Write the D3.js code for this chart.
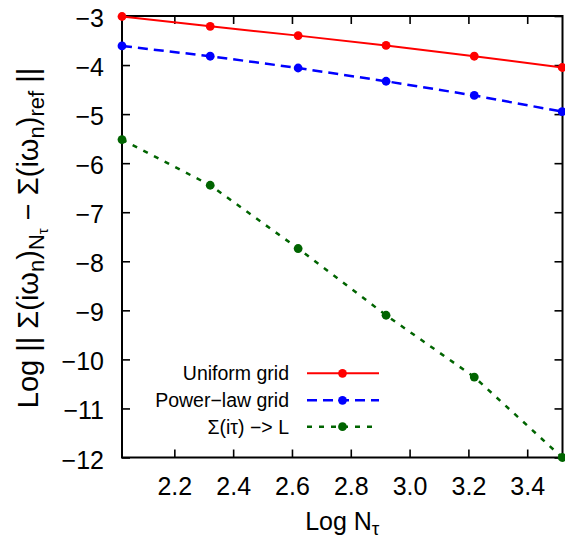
<!DOCTYPE html>
<html>
<head>
<meta charset="utf-8">
<script src="https://cdn.jsdelivr.net/npm/d3@7"></script>
<style>
  html, body { margin: 0; padding: 0; background: #fff; }
  svg { display: block; font-family: "Liberation Sans", Arial, Helvetica, sans-serif; }
</style>
</head>
<body>
<svg id="chart" width="565" height="538"></svg>
<script>
// ---- data ----
const logN = [2.022, 2.322, 2.621, 2.920, 3.220, 3.519];
const uniformGrid = [-3.01, -3.21, -3.40, -3.60, -3.82, -4.05];
const powerLawGrid = [-3.61, -3.82, -4.06, -4.33, -4.62, -4.95];
const sigmaTauL = [-5.52, -6.45, -7.74, -9.10, -10.36, -12.00];
const xTicks = [2.2, 2.4, 2.6, 2.8, 3.0, 3.2, 3.4];
const yTicks = [-3, -4, -5, -6, -7, -8, -9, -10, -11, -12];
const seriesNames = ["Uniform grid", "Power\u2212law grid", "\u03A3(i\u03C4) \u2212> L"];

// ---- layout ----
const L = 122, R = 562.5, T = 16, B = 457.5;
const svg = d3.select("#chart");

const x = d3.scaleLinear().domain([2.022, 3.520]).range([L, R]);
const y = d3.scaleLinear().domain([-12, -3]).range([B, T]);

const series = [
  { name: seriesNames[0], values: uniformGrid, color: "#ff0000", dash: null, width: 2 },
  { name: seriesNames[1], values: powerLawGrid, color: "#0000ff", dash: "10,6", width: 2.5 },
  { name: seriesNames[2], values: sigmaTauL, color: "#006400", dash: "5,7", width: 2.5 }
];

// ---- axes (inward ticks, mirrored) ----
const tickLen = 8;
const fmtX = d3.format(".1f");
const axB = d3.axisBottom(x).tickValues(xTicks).tickSize(-tickLen).tickFormat(fmtX);
const axT = d3.axisTop(x).tickValues(xTicks).tickSize(-tickLen).tickFormat("");
const axLft = d3.axisLeft(y).tickValues(yTicks).tickSize(-tickLen).tickPadding(18).tickFormat(d => d3.format("d")(d).replace("-", "\u2212"));
const axRgt = d3.axisRight(y).tickValues(yTicks).tickSize(-tickLen).tickFormat("");

function styleAxis(g) {
  g.select(".domain").remove();
  g.selectAll(".tick line").attr("stroke", "#000").attr("stroke-width", 1.6);
  g.selectAll(".tick text").attr("fill", "#000").style("font-size", "25px");
}

svg.append("g").attr("transform", `translate(0,${B})`).call(axB).call(styleAxis)
  .selectAll(".tick text").attr("dy", "0").attr("y", 37);
svg.append("g").attr("transform", `translate(0,${T})`).call(axT).call(styleAxis);
svg.append("g").attr("transform", `translate(${L},0)`).call(axLft).call(styleAxis)
  .selectAll(".tick text").attr("dy", "0.42em");
svg.append("g").attr("transform", `translate(${R},0)`).call(axRgt).call(styleAxis);

// border box
svg.append("rect").attr("x", L).attr("y", T).attr("width", R - L).attr("height", B - T)
  .attr("fill", "none").attr("stroke", "#000").attr("stroke-width", 2);

// ---- series ----
const line = d3.line().x((d, i) => x(logN[i])).y(d => y(d));
series.forEach(s => {
  svg.append("path").datum(s.values)
    .attr("d", line)
    .attr("fill", "none")
    .attr("stroke", s.color)
    .attr("stroke-width", s.width)
    .attr("stroke-dasharray", s.dash);
  svg.append("g").selectAll("circle").data(s.values).join("circle")
    .attr("cx", (d, i) => x(logN[i]))
    .attr("cy", d => y(d))
    .attr("r", 4.4)
    .attr("fill", s.color);
});

// ---- legend ----
const legTextX = 289, legX0 = 307, legX1 = 379, legMk = 342.5;
const legY = [373.3, 400.3, 426.7];
series.forEach((s, i) => {
  const g = svg.append("g");
  g.append("text").attr("x", legTextX).attr("y", legY[i]).attr("dy", "0.35em")
    .attr("text-anchor", "end").style("font-size", "19.5px").attr("fill", "#000").text(s.name);
  g.append("line").attr("x1", legX0).attr("x2", legX1).attr("y1", legY[i]).attr("y2", legY[i])
    .attr("stroke", s.color).attr("stroke-width", s.width).attr("stroke-dasharray", s.dash);
  g.append("circle").attr("cx", legMk).attr("cy", legY[i]).attr("r", 4.4).attr("fill", s.color);
});

// ---- axis titles ----
const xt = svg.append("text").attr("x", (L + R) / 2).attr("y", 530)
  .attr("text-anchor", "middle").style("font-size", "25px").attr("fill", "#000");
xt.append("tspan").text("Log N");
xt.append("tspan").attr("dy", 5).style("font-size", "19px").text("\u03C4");

const yt = svg.append("text")
  .attr("transform", `translate(38,${238}) rotate(-90)`)
  .attr("text-anchor", "middle").style("font-size", "29px").attr("fill", "#000");
yt.append("tspan").text("Log || \u03A3(i\u03C9");
yt.append("tspan").attr("dy", 6).style("font-size", "22px").text("n");
yt.append("tspan").attr("dy", -6).text(")");
yt.append("tspan").attr("dy", 6).style("font-size", "22px").text("N");
yt.append("tspan").attr("dy", 4).style("font-size", "15px").text("\u03C4");
yt.append("tspan").attr("dy", -10).text(" \u2212 \u03A3(i\u03C9");
yt.append("tspan").attr("dy", 6).style("font-size", "22px").text("n");
yt.append("tspan").attr("dy", -6).text(")");
yt.append("tspan").attr("dy", 6).style("font-size", "22px").text("ref");
yt.append("tspan").attr("dy", -6).text(" ||");
</script>
</body>
</html>
